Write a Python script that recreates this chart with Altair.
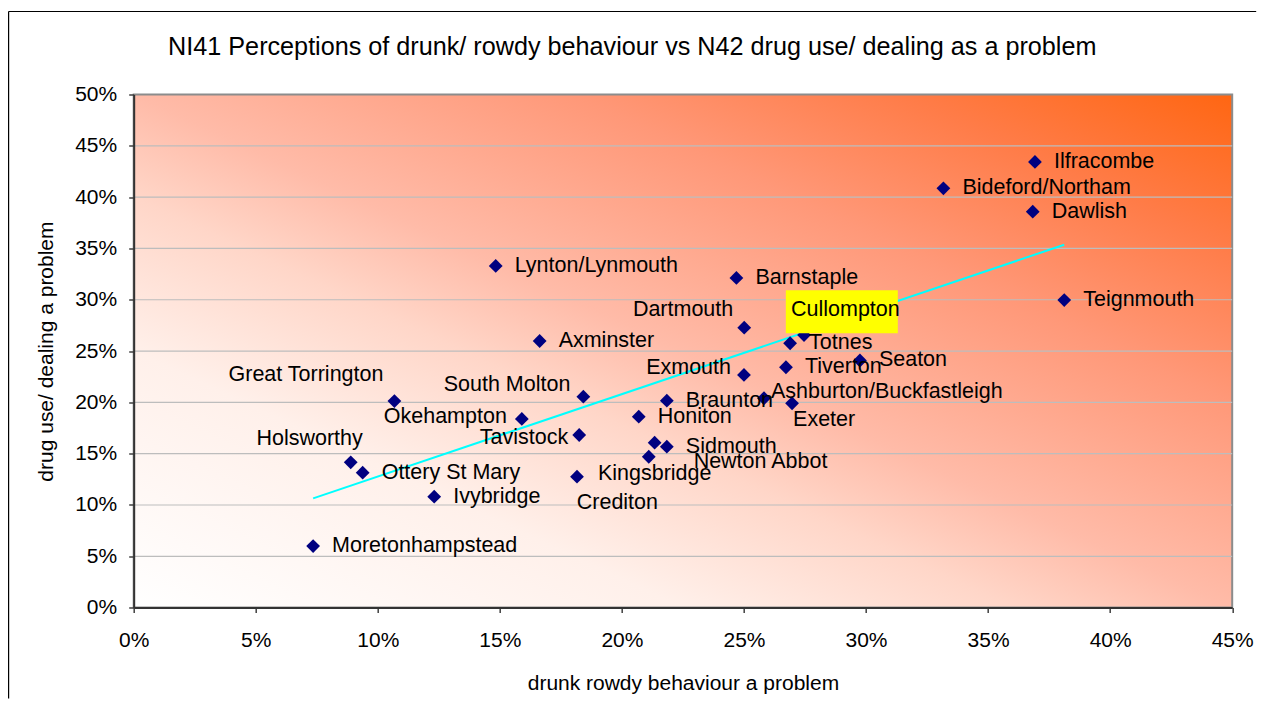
import altair as alt
import pandas as pd

# ---- data ----
towns = [
    "Ilfracombe", "Bideford/Northam", "Dawlish", "Teignmouth", "Lynton/Lynmouth",
    "Barnstaple", "Dartmouth", "Cullompton", "Totnes", "Tiverton", "Seaton",
    "Exmouth", "Ashburton/Buckfastleigh", "Exeter", "Braunton", "Honiton",
    "Sidmouth", "Newton Abbot", "Crediton", "Kingsbridge", "Great Torrington",
    "South Molton", "Okehampton", "Tavistock", "Axminster", "Holsworthy",
    "Ottery St Mary", "Ivybridge", "Moretonhampstead",
]
drunk_rowdy = [
    0.3692, 0.3317, 0.3683, 0.3812, 0.1483,
    0.2469, 0.2501, 0.2746, 0.2689, 0.2672, 0.2975,
    0.2500, 0.2582, 0.2697, 0.2184, 0.2069,
    0.2184, 0.2134, 0.2110, 0.1816, 0.1068,
    0.1842, 0.1590, 0.1825, 0.1663, 0.0889,
    0.0938, 0.1231, 0.0735,
]
drug_use = [
    0.4343, 0.4086, 0.3858, 0.2997, 0.3329,
    0.3212, 0.2728, 0.2656, 0.2576, 0.2342, 0.2408,
    0.2267, 0.2040, 0.1991, 0.2016, 0.1860,
    0.1568, 0.1607, 0.1470, 0.1276, 0.2013,
    0.2055, 0.1838, 0.1682, 0.2598, 0.1416,
    0.1315, 0.1081, 0.0600,
]
x_ticks = [0.0, 0.05, 0.10, 0.15, 0.20, 0.25, 0.30, 0.35, 0.40, 0.45]
y_ticks = [0.0, 0.05, 0.10, 0.15, 0.20, 0.25, 0.30, 0.35, 0.40, 0.45, 0.50]

TITLE = "NI41 Perceptions of drunk/ rowdy behaviour vs N42 drug use/ dealing as a problem"
X_TITLE = "drunk rowdy behaviour a problem"
Y_TITLE = "drug use/ dealing a problem"
HIGHLIGHT = "Cullompton"

# ---- label placement (style: pixel offsets from the marker) ----
DEFAULT_LABEL = (19, 0, "left")
LABEL_STYLE = {
    "Great Torrington": (-11, -26, "right"),
    "South Molton": (-13, -12, "right"),
    "Okehampton": (-15, -2, "right"),
    "Tavistock": (-11, 3, "right"),
    "Holsworthy": (12, -23, "right"),
    "Dartmouth": (-11, -18, "right"),
    "Exmouth": (-13, -7, "right"),
    "Ashburton/Buckfastleigh": (7, -6, "left"),
    "Exeter": (1, 17, "left"),
    "Kingsbridge": (21, -3, "left"),
    "Crediton": (-72, 46, "left"),
    "Newton Abbot": (39, 19, "left"),
    "Cullompton": (-13, -25, "left"),
}

FONT = "Liberation Sans"
PLOT_W, PLOT_H = 1098.5, 513.1
PAD = {"left": 125.7, "top": 86.5, "right": 25, "bottom": 92}

df = pd.DataFrame({"town": towns, "drunk": drunk_rowdy, "drug": drug_use})
grid_df = pd.DataFrame({"drug": y_ticks[1:-1]})

x_scale = alt.Scale(domain=[0, 0.45], nice=False, zero=True)
y_scale = alt.Scale(domain=[0, 0.5], nice=False, zero=True)

x_axis = alt.Axis(
    values=x_ticks, format=".0%", title=X_TITLE, grid=False, zindex=1,
    labelFontSize=21, titleFontSize=21, labelColor="black", titleColor="black",
    titleFontWeight="normal", tickSize=5, labelPadding=17, tickColor="#404040",
    domainColor="#333333", domainWidth=2, tickWidth=1.5,
    titleBaseline="middle", titleY=75.5, labelFlush=False,
)
y_axis = alt.Axis(
    values=y_ticks, format=".0%", title=Y_TITLE, grid=False, zindex=1,
    labelFontSize=21, titleFontSize=21, labelColor="black", titleColor="black",
    titleFontWeight="normal", tickSize=5, labelPadding=12, tickColor="#404040",
    domainColor="#333333", domainWidth=2, tickWidth=1.5,
    titleBaseline="middle", titleX=-86.7, titleY=PLOT_H / 2, labelFlush=False,
)
x_enc = alt.X("drunk:Q", scale=x_scale, axis=x_axis)
y_enc = alt.Y("drug:Q", scale=y_scale, axis=y_axis)

base = alt.Chart(df)
one = pd.DataFrame({"k": [0]})

# chart frame: only its left and top edges fall inside the picture
frame_left = alt.Chart(one).mark_rule(color="black", strokeWidth=1.2).encode(
    x=alt.value(-125.1), y=alt.value(-83), y2=alt.value(PLOT_H + PAD["bottom"] - 1)
)
frame_top = alt.Chart(one).mark_rule(color="black", strokeWidth=1.2).encode(
    x=alt.value(-125.1), x2=alt.value(PLOT_W + PAD["right"] - 1), y=alt.value(-83)
)

background = alt.Chart(one).mark_rect(
    stroke="#8C8C8C", strokeWidth=2,
    color=alt.LinearGradient(
        gradient="linear",
        x1=0, y1=1, x2=1, y2=0,
        stops=[
            alt.GradientStop(color="#FFFFFF", offset=0),
            alt.GradientStop(color="#FFF0EA", offset=0.25),
            alt.GradientStop(color="#FFD6C8", offset=0.4),
            alt.GradientStop(color="#FFBBA8", offset=0.5),
            alt.GradientStop(color="#FF9878", offset=0.7),
            alt.GradientStop(color="#FF7C48", offset=0.85),
            alt.GradientStop(color="#FF6612", offset=1),
        ],
    ),
).encode(x=alt.value(0), x2=alt.value(PLOT_W), y=alt.value(0), y2=alt.value(PLOT_H))

grid = alt.Chart(grid_df).mark_rule(color="#BDBDBD", strokeWidth=1.2).encode(y=y_enc)

trend = base.transform_regression("drunk", "drug").mark_line(
    color="#00FFFF", strokeWidth=2
).encode(x=x_enc, y=y_enc)

points = base.mark_point(
    shape="diamond", filled=True, color="#000080", size=190, opacity=1
).encode(x=x_enc, y=y_enc)

hl_box = base.transform_filter(alt.datum.town == HIGHLIGHT).mark_rect(
    color="#FFFF00", width=112, height=43, xOffset=37.8, yOffset=-23.3
).encode(x=x_enc, y=y_enc)

# group labels by identical placement
groups = {}
for t in towns:
    groups.setdefault(LABEL_STYLE.get(t, DEFAULT_LABEL), []).append(t)

label_layers = []
for (dx, dy, align), names in groups.items():
    label_layers.append(
        base.transform_filter(alt.FieldOneOfPredicate(field="town", oneOf=names))
        .mark_text(align=align, baseline="middle", dx=dx, dy=dy,
                   fontSize=21.5, font=FONT, color="black")
        .encode(x=x_enc, y=y_enc, text="town:N")
    )

chart = alt.layer(
    frame_left, frame_top, background, grid, trend, points, hl_box, *label_layers
).properties(
    width=PLOT_W,
    height=PLOT_H,
    title=alt.TitleParams(
        TITLE, fontSize=25.2, font=FONT, fontWeight="normal", color="black",
        anchor="middle", dx=-50.7, offset=-49.3,
    ),
    autosize=alt.AutoSizeParams(type="none"),
    padding=PAD,
).configure(
    font=FONT, background="white"
).configure_view(
    stroke="transparent",
)

chart.save("out.html", embed_options={"renderer": "svg", "actions": False})
